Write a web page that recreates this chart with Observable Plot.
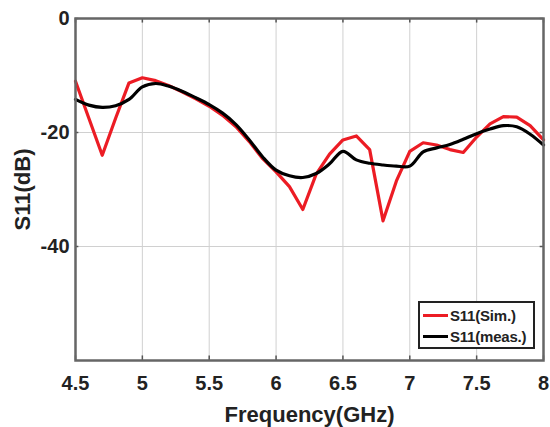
<!DOCTYPE html>
<html>
<head>
<meta charset="utf-8">
<script src="https://cdn.jsdelivr.net/npm/d3@7"></script>
<script src="https://cdn.jsdelivr.net/npm/@observablehq/plot@0.6"></script>
<style>
  body { margin: 0; background: #fff; }
  #wrap { position: relative; width: 550px; height: 427px; }
  #legend {
    position: absolute; left: 418px; top: 301px; width: 113px; height: 44px;
    border: 2px solid #222; background: #fff;
    font-family: "Liberation Sans", Arial, sans-serif; font-weight: bold; font-size: 15px; color: #222;
    letter-spacing: -0.2px;
  }
  .row { position: absolute; left: 3px; display: flex; align-items: center; height: 20px; }
  .sw { width: 25px; height: 3px; margin-right: 2px; }
</style>
</head>
<body>
<div id="wrap"></div>
<script>
const freq = [4.5,4.6,4.7,4.8,4.9,5.0,5.1,5.2,5.3,5.4,5.5,5.6,5.7,5.8,5.9,6.0,6.1,6.2,6.3,6.4,6.5,6.6,6.7,6.8,6.9,7.0,7.1,7.2,7.3,7.4,7.5,7.6,7.7,7.8,7.9,8.0];
const simValues = [-11,-17.5,-24,-17.5,-11.3,-10.4,-10.9,-11.8,-12.9,-14.1,-15.4,-17.0,-19.0,-21.6,-24.6,-26.9,-29.5,-33.5,-27.3,-23.8,-21.3,-20.6,-23.0,-35.5,-28.5,-23.3,-21.8,-22.2,-23.0,-23.5,-20.8,-18.5,-17.2,-17.3,-18.8,-21.3];
const measValues = [-14.2,-15.2,-15.6,-15.3,-14.2,-12.0,-11.4,-11.9,-12.8,-13.9,-15.1,-16.6,-18.6,-21.3,-24.3,-26.6,-27.6,-27.9,-27.2,-25.5,-23.3,-24.8,-25.4,-25.7,-25.9,-25.9,-23.4,-22.7,-22.1,-21.2,-20.2,-19.4,-18.8,-19.0,-20.3,-22.2];
const xTicks = [4.5,5,5.5,6,6.5,7,7.5,8];
const yTicks = [0,-20,-40];
const seriesNames = ["S11(Sim.)","S11(meas.)"];
const seriesColors = ["#ec1c24","#000000"];

const sim = freq.map((f,i) => ({f, v: simValues[i]}));
const meas = freq.map((f,i) => ({f, v: measValues[i]}));

const font = "'Liberation Sans', Arial, sans-serif";
const chart = Plot.plot({
  width: 550, height: 427,
  marginLeft: 75, marginRight: 7, marginTop: 18, marginBottom: 67,
  style: {fontFamily: font, fontWeight: "bold", color: "#222", background: "#fff"},
  x: {domain: [4.5, 8]},
  y: {domain: [-60, 0]},
  marks: [
    Plot.gridX(xTicks, {stroke: "#d0d0d0", strokeOpacity: 1, strokeWidth: 1}),
    Plot.gridY(yTicks, {stroke: "#d0d0d0", strokeOpacity: 1, strokeWidth: 1}),
    Plot.ruleX(xTicks, {y1: -60, y2: -59.2, stroke: "#555", strokeWidth: 1.5}),
    Plot.ruleX(xTicks, {y1: 0, y2: -0.8, stroke: "#555", strokeWidth: 1.5}),
    Plot.ruleY(yTicks, {x1: 4.5, x2: 4.525, stroke: "#555", strokeWidth: 1.5}),
    Plot.ruleY(yTicks, {x1: 8, x2: 7.975, stroke: "#555", strokeWidth: 1.5}),
    Plot.line(sim, {x: "f", y: "v", stroke: seriesColors[0], strokeWidth: 3.2}),
    Plot.line(meas, {x: "f", y: "v", stroke: seriesColors[1], strokeWidth: 3.2, curve: "catmull-rom"}),
    Plot.frame({stroke: "#666", strokeWidth: 2.5}),
    Plot.axisX(xTicks, {tickSize: 0, tickPadding: 15, fontSize: 20, label: null, tickFormat: d => String(d)}),
    Plot.axisY(yTicks, {tickSize: 0, tickPadding: 6, fontSize: 20, label: null, tickFormat: d => String(d)}),
    Plot.text(["Frequency(GHz)"], {x: 6.25, y: -60, dy: 54, fontSize: 22, fontWeight: "bold", fill: "#222"}),
    Plot.text(["S11(dB)"], {x: 4.5, y: -30, dx: -53, rotate: -90, fontSize: 22, fontWeight: "bold", fill: "#222"})
  ]
});
const wrap = document.getElementById("wrap");
wrap.appendChild(chart);
const leg = document.createElement("div");
leg.id = "legend";
seriesNames.forEach((n, i) => {
  const r = document.createElement("div");
  r.className = "row";
  r.style.top = (2 + i * 21) + "px";
  const s = document.createElement("span");
  s.className = "sw"; s.style.background = seriesColors[i];
  const t = document.createElement("span");
  t.textContent = n;
  r.appendChild(s); r.appendChild(t);
  leg.appendChild(r);
});
wrap.appendChild(leg);
</script>
</body>
</html>
